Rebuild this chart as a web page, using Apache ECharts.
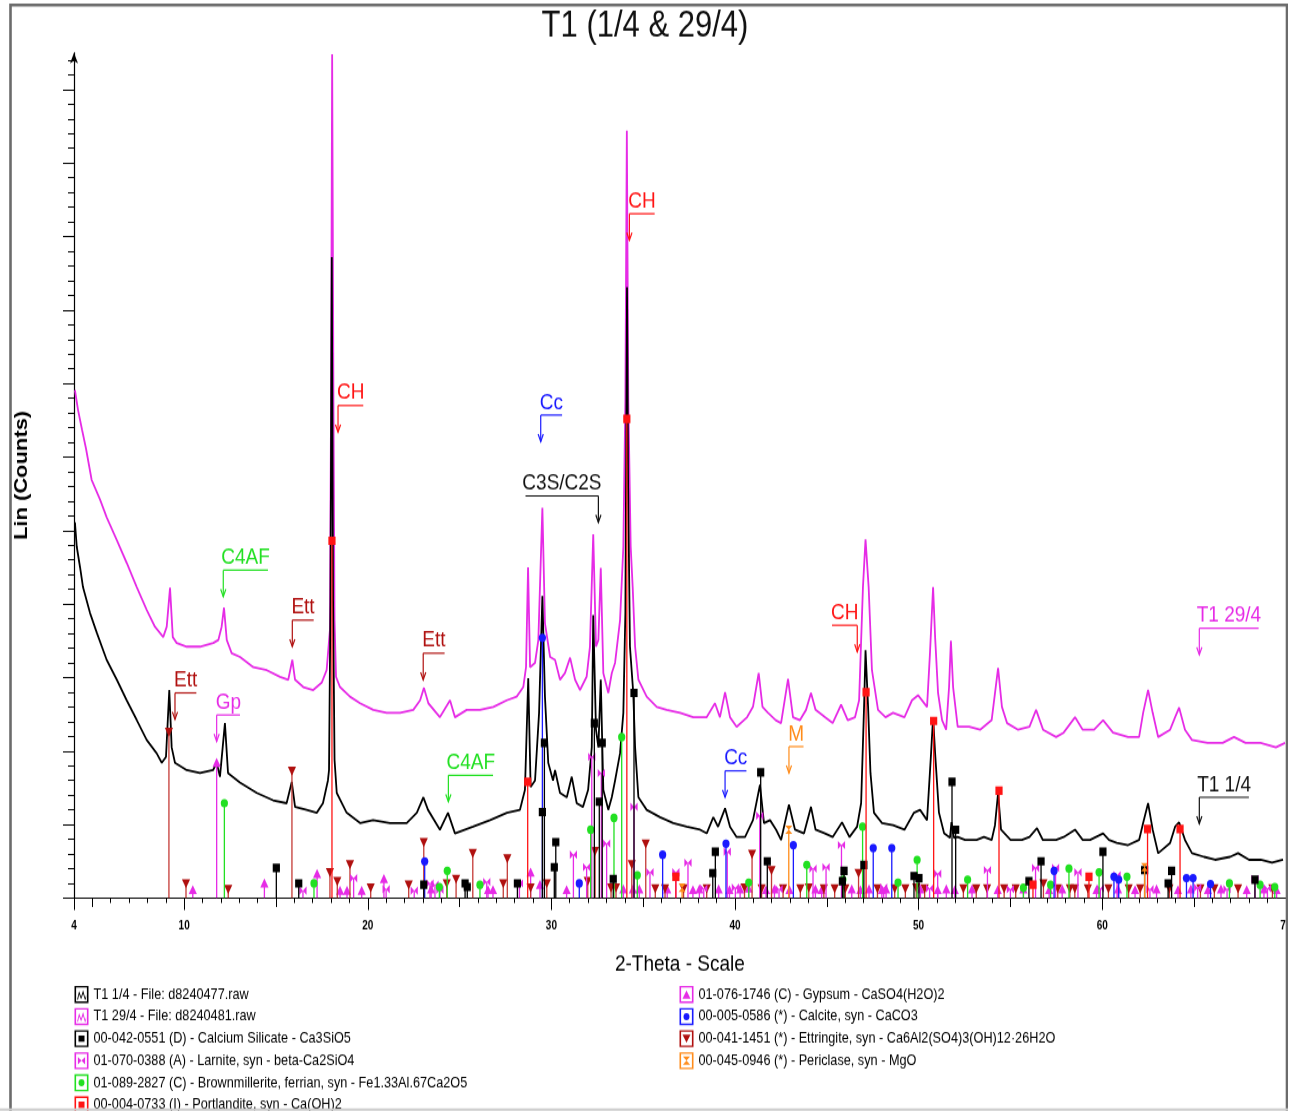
<!DOCTYPE html>
<html>
<head>
<meta charset="utf-8">
<title>T1 (1/4 &amp; 29/4)</title>
<script src="https://cdn.jsdelivr.net/npm/echarts@6/dist/echarts.min.js"></script>
<style>
  html, body { margin: 0; padding: 0; background: #fff; overflow: hidden; }
  #wrap { width: 1295px; height: 1111px; overflow: hidden; position: relative; background: #fff; }
  /* the diffractogram is laid out in a 942px-tall box and stretched to the full page height */
  #chart { width: 1288px; height: 942px; transform: scaleY(1.1794055); transform-origin: 0 0; }
</style>
</head>
<body>
<div id="wrap"><div id="chart"></div></div>
<script>
// ---------------------------------------------------------------- data
// 2-Theta (deg) / Lin (Counts) pairs

const t1Day1 = [
  [4.05,511],[4.15,478],[4.33,450],[4.49,423],[4.87,388],[5.24,361],[5.78,324],[6.33,297],[6.87,269],[7.42,242],
  [7.96,215],[8.50,197],[8.78,184],[9.01,192],[9.19,283],[9.32,205],[9.50,184],[10.14,174],[10.86,170],[11.57,174],
  [11.77,184],[11.95,165],[12.22,238],[12.39,170],[13.04,157],[13.95,143],[14.84,133],[15.58,129],[15.86,158],[16.04,124],
  [16.67,120],[17.22,116],[17.56,129],[17.83,160],[17.89,174],[17.97,405],[18.04,872],[18.11,405],[18.19,188],[18.31,143],
  [18.85,116],[19.58,102],[20.29,106],[21.21,102],[22.12,102],[22.67,116],[23.03,137],[23.28,120],[23.93,93],[24.37,116],
  [24.75,88],[25.73,97],[26.66,106],[27.58,116],[28.29,120],[28.56,147],[28.74,299],[28.87,151],[29.11,160],[29.33,252],
  [29.51,411],[29.65,274],[29.83,184],[30.09,160],[30.20,174],[30.47,143],[30.84,137],[31.11,165],[31.38,129],[31.72,124],
  [32.00,147],[32.20,205],[32.28,385],[32.43,229],[32.56,205],[32.69,297],[32.83,147],[33.10,120],[33.29,137],[33.47,160],
  [33.74,197],[33.92,252],[34.03,388],[34.12,831],[34.18,560],[34.28,342],[34.46,279],[34.56,205],[34.74,137],[35.19,120],
  [35.92,110],[36.64,102],[37.37,97],[38.10,93],[38.46,88],[38.82,110],[39.08,97],[39.46,122],[39.73,97],[40.09,83],
  [40.55,83],[40.98,106],[41.36,154],[41.58,102],[41.91,106],[42.24,93],[42.51,79],[42.94,127],[43.27,93],[43.76,88],
  [44.14,124],[44.39,93],[44.90,88],[45.32,83],[45.83,103],[46.24,83],[46.65,97],[46.87,129],[47.03,260],[47.11,337],
  [47.25,260],[47.38,170],[47.57,116],[48.01,102],[48.61,99],[49.23,93],[49.75,116],[50.08,120],[50.46,106],[50.68,197],
  [50.79,246],[50.90,197],[51.11,116],[51.39,88],[51.71,82],[51.79,103],[51.93,82],[52.13,83],[52.53,79],[53.16,79],
  [53.56,83],[53.98,79],[54.16,99],[54.33,143],[54.49,93],[55.01,79],[55.63,79],[56.04,83],[56.45,95],[56.77,79],
  [57.49,79],[57.90,83],[58.52,93],[58.94,79],[59.34,79],[60.05,88],[60.37,79],[60.79,75],[61.41,72],[62.01,79],
  [62.23,102],[62.50,129],[62.75,93],[63.05,61],[63.70,75],[63.97,97],[64.19,103],[64.51,79],[64.89,61],[65.55,56],
  [66.15,52],[66.96,56],[67.40,61],[68.00,52],[68.63,52],[69.25,48],[69.85,52]
];

const t1Day29 = [
  [4.05,691],[4.22,664],[4.44,637],[4.65,612],[4.96,569],[5.42,542],[5.78,518],[6.33,487],[6.87,456],[7.42,423],
  [7.96,392],[8.41,369],[8.86,355],[9.05,369],[9.23,422],[9.38,355],[9.59,347],[10.14,342],[10.86,342],[11.59,347],
  [11.86,351],[12.04,369],[12.17,395],[12.32,351],[12.59,333],[13.04,328],[13.77,314],[14.50,310],[15.22,301],[15.67,297],
  [15.89,324],[16.04,297],[16.49,287],[17.03,283],[17.49,293],[17.76,310],[17.94,365],[18.00,678],[18.06,1148],[18.13,678],
  [18.19,378],[18.27,301],[18.49,287],[19.03,274],[19.58,265],[20.30,256],[21.03,252],[21.76,252],[22.48,256],[22.85,269],
  [23.06,286],[23.30,265],[23.93,246],[24.48,269],[24.75,246],[25.39,256],[26.11,256],[26.84,260],[27.57,269],[28.11,274],
  [28.47,287],[28.62,314],[28.73,450],[28.84,314],[29.11,320],[29.29,351],[29.51,531],[29.65,374],[29.93,328],[30.20,324],
  [30.47,297],[30.74,306],[31.02,327],[31.29,297],[31.56,283],[31.92,301],[32.10,342],[32.28,495],[32.43,342],[32.56,351],
  [32.69,449],[32.83,306],[33.10,279],[33.29,306],[33.47,320],[33.74,378],[33.92,478],[34.03,678],[34.11,1044],[34.19,678],
  [34.32,478],[34.43,422],[34.56,342],[34.74,297],[35.19,274],[35.74,260],[36.28,256],[37.01,252],[37.73,246],[38.46,246],
  [38.91,265],[39.18,246],[39.46,280],[39.73,246],[40.09,233],[40.66,246],[40.98,260],[41.29,306],[41.50,260],[41.80,252],
  [42.22,242],[42.51,238],[42.89,298],[43.16,246],[43.54,242],[43.87,256],[44.14,279],[44.39,256],[44.90,246],[45.32,238],
  [45.78,263],[46.14,242],[46.54,246],[46.76,269],[46.97,423],[47.11,488],[47.28,423],[47.46,310],[47.79,256],[48.20,246],
  [48.61,252],[49.23,246],[49.64,269],[49.97,276],[50.46,260],[50.62,333],[50.79,423],[50.90,355],[51.06,279],[51.28,242],
  [51.50,229],[51.66,287],[51.76,350],[51.88,287],[52.13,233],[52.75,233],[53.35,229],[53.98,242],[54.33,313],[54.54,260],
  [54.82,238],[55.42,229],[56.04,233],[56.40,256],[56.78,229],[57.49,219],[57.90,225],[58.52,246],[58.94,229],[59.56,229],
  [60.05,242],[60.59,225],[61.41,219],[62.01,219],[62.23,252],[62.50,283],[62.75,252],[63.05,219],[63.70,229],[63.97,246],
  [64.19,259],[64.51,229],[64.89,215],[65.74,211],[66.56,211],[67.18,219],[67.81,211],[68.63,211],[69.46,205],[69.96,211]
];

// reference pattern lines: [2-Theta, stick height]
const calciumSilicate = [
  [15.02,41],[16.24,20],[23.05,18],[25.30,20],[25.42,15],[28.15,20],[29.51,117],[29.62,211],[30.16,42],[30.24,76],
  [32.34,238],[32.61,131],[32.77,211],[33.37,26],[34.50,279],[38.79,34],[38.93,63],[41.40,171],[41.76,50],[45.85,23],
  [45.94,37],[47.02,45],[49.75,30],[50.02,27],[51.82,158],[52.02,93],[56.01,23],[56.67,50],[60.04,63],[62.31,38],
  [63.59,20],[63.78,37],[68.32,25]
];
const larnite = [
  [16.47,10],[19.23,27],[21.00,12],[22.53,10],[23.39,20],[23.66,18],[23.93,11],[26.48,22],[28.26,20],[31.20,59],
  [31.92,42],[32.20,192],[32.72,170],[33.01,74],[34.50,124],[35.37,35],[36.78,35],[37.44,48],[38.30,13],[39.58,63],
  [40.02,14],[41.35,112],[42.40,12],[44.25,40],[44.96,42],[45.80,72],[48.10,14],[50.60,13],[51.04,33],[53.75,38],
  [55.00,12],[56.37,41],[57.46,41],[58.68,35],[59.90,13],[60.81,31],[62.60,12],[65.20,14],[66.80,12],[68.32,26],[69.00,13]
];
const brownmillerite = [
  [12.19,129],[17.07,20],[23.90,15],[24.33,37],[26.11,18],[32.14,93],[33.41,109],[33.83,219],[34.68,31],[40.75,21],
  [43.91,45],[45.88,25],[46.95,97],[48.88,21],[49.92,52],[52.67,25],[55.71,14],[57.19,18],[58.19,40],[59.83,35],
  [61.35,29],[66.93,20],[68.60,18],[69.40,15]
];
const portlandite = [
  [18.05,486],[28.71,158],[34.11,652],[36.78,29],[47.14,280],[50.82,241],[54.38,146],[56.23,18],[59.28,29],[62.47,94],[64.24,94]
];
const gypsum = [
  [10.47,11],[11.77,184],[14.37,20],[17.24,33],[18.49,10],[18.87,10],[19.67,10],[20.88,26],[23.45,12],[26.55,11],
  [26.82,11],[28.87,35],[29.38,18],[30.83,11],[33.92,12],[34.44,12],[34.79,12],[36.31,12],[37.71,11],[38.06,12],
  [39.11,12],[39.70,11],[40.28,12],[40.75,13],[41.69,11],[42.15,12],[42.97,11],[44.38,12],[44.72,11],[46.36,12],
  [46.83,11],[47.30,12],[48.00,11],[48.23,12],[50.10,12],[51.04,11],[51.51,12],[51.97,11],[52.91,12],[54.31,11],
  [55.71,12],[57.11,11],[57.82,12],[59.69,11],[60.86,12],[61.79,11],[62.96,12],[64.13,11],[64.83,12],[65.76,11],
  [66.47,12],[67.87,11],[68.81,12],[69.50,11]
];
const calcite = [
  [23.10,50],[29.51,354],[31.52,20],[36.06,59],[39.51,74],[43.18,72],[47.53,68],[48.54,68],[57.38,37],[60.64,29],
  [60.90,25],[64.59,27],[64.95,27],[65.90,19]
];
const ettringite = [
  [9.17,226],[10.10,20],[12.40,12],[15.87,173],[17.94,35],[18.34,23],[19.03,46],[20.16,14],[22.23,18],[23.05,76],
  [24.30,20],[24.81,26],[25.72,61],[27.38,20],[27.60,54],[28.87,14],[29.75,20],[31.98,23],[32.38,64],[33.25,14],
  [33.52,14],[34.38,46],[35.14,74],[35.66,13],[36.19,13],[37.20,13],[38.46,13],[40.52,14],[40.93,60],[41.45,13],
  [41.99,38],[42.62,13],[43.56,13],[44.02,14],[44.84,13],[45.43,13],[46.01,13],[46.73,34],[47.76,13],[48.70,13],
  [49.28,13],[49.87,14],[50.33,13],[52.44,13],[53.14,13],[53.73,13],[54.66,13],[55.29,13],[56.80,20],[57.58,13],
  [58.24,13],[58.51,13],[59.22,13],[60.34,13],[61.44,13],[62.07,13],[63.66,13],[65.35,13],[66.11,13],[67.40,13],[69.27,13]
];
const periclase = [[37.12,14],[42.93,93],[62.31,42]];

// phase call-outs: label text and the point the arrow touches
const calloutText = ['CH', 'CH', 'Cc', 'C3S/C2S', 'C4AF', 'Ett', 'Ett', 'Ett', 'Gp', 'C4AF', 'Cc', 'M', 'CH', 'T1 29/4', 'T1 1/4'];
const calloutAt = [
  [18.38,634],[34.25,895],[29.42,621],[32.56,511],[12.13,410],[15.89,342],[23.02,297],[9.50,243],
  [11.77,213],[24.39,131],[39.46,137],[42.94,170],[46.66,335],[65.29,331],[65.29,101]
];

// axis ticks and labels
const degreeLabels = [4, 10, 20, 30, 40, 50, 60, 70];
const degreeMidTicks = [5, 15, 25, 35, 45, 55, 65];
const countMajorTicks = [0, 100, 200, 300, 400, 500, 600, 700, 800, 900, 1000, 1100];

// legend entries
const scanNames = ['T1 1/4 - File: d8240477.raw', 'T1 29/4 - File: d8240481.raw'];
const phaseNames = {
  c3s: '00-042-0551 (D) - Calcium Silicate - Ca3SiO5',
  larnite: '01-070-0388 (A) - Larnite, syn - beta-Ca2SiO4',
  brown: '01-089-2827 (C) - Brownmillerite, ferrian, syn - Fe1.33Al.67Ca2O5',
  portl: '00-004-0733 (I) - Portlandite, syn - Ca(OH)2',
  gypsum: '01-076-1746 (C) - Gypsum - CaSO4(H2O)2',
  calcite: '00-005-0586 (*) - Calcite, syn - CaCO3',
  ett: '00-041-1451 (*) - Ettringite, syn - Ca6Al2(SO4)3(OH)12\u00B726H2O',
  peri: '00-045-0946 (*) - Periclase, syn - MgO'
};

// ---------------------------------------------------------------- layout helpers
const SY = 1111 / 942;               // vertical stretch of the drawing box
const FONT = "'Liberation Sans', Arial, Helvetica, sans-serif";
const CW = 1288, CH = 942;
const AXIS_Y = 898 / SY;             // x axis line
const PLOT_TOP = 52.75 / SY;         // top of the count axis

const degreeMinorTicks = [];
for (let d = 4; d <= 70; d++) degreeMinorTicks.push(d);
const countMinorTicks = [];
for (let v = 0; v <= 1140; v += 20) countMinorTicks.push(v);

const COLORS = {
  black: '#000000', magenta: '#e62be6', green: '#22e022', red: '#ff1414',
  blue: '#1a1aff', ett: '#b0100f', ettLine: '#c43a36', orange: '#ff8c1a'
};
const calloutColor = {
  'CH': COLORS.red, 'Cc': COLORS.blue, 'C3S/C2S': '#111111', 'C4AF': COLORS.green,
  'Ett': COLORS.ett, 'Gp': COLORS.magenta, 'M': COLORS.orange, 'T1 29/4': COLORS.magenta, 'T1 1/4': '#111111'
};
const hookOnRight = [3, 12];

const measureCtx = document.createElement('canvas').getContext('2d');
measureCtx.font = '19px ' + FONT;

// legend icons drawn in a 14 x 17 box: coloured frame + phase symbol
const FRAME = 'M0,0H14V17H0Z M1.6,1.6V15.4H12.4V1.6Z ';
const ICONS = {
  scan: FRAME + 'M2.6,13.6L4.6,5L6.6,10.8L8.6,4L10.7,12.2L11.6,9.2V11.8L10.6,14.4L8.6,7.6L6.6,13.4L4.6,8.2L3.6,13.6Z',
  square: FRAME + 'M4,5.3H10V11.7H4Z',
  circle: FRAME + 'M7,5A3,3.5,0,1,1,6.99,5Z',
  up: FRAME + 'M7,4.4L11,12.6H3Z',
  down: FRAME + 'M3,4.4H11L7,12.6Z',
  bowtie: FRAME + 'M3.4,4.8L7,8.5L10.6,4.8V12.2L7,8.5L3.4,12.2Z',
  hourglass: FRAME + 'M3.4,4.4H10.6L7,8.5L10.6,12.6H3.4L7,8.5Z'
};

function marker(kind, x, y, color) {
  const hw = 3.6, hh = 4.2 / SY;
  const style = { fill: color };
  switch (kind) {
    case 'square': return { type: 'rect', shape: { x: x - hw, y: y - hh, width: 2 * hw, height: 2 * hh }, style };
    case 'circle': return { type: 'circle', shape: { cx: x, cy: y, r: hw }, style };
    case 'up': return { type: 'polygon', shape: { points: [[x, y - hh - 0.6], [x + hw + 0.5, y + hh], [x - hw - 0.5, y + hh]] }, style };
    case 'down': return { type: 'polygon', shape: { points: [[x - hw - 0.5, y - hh], [x + hw + 0.5, y - hh], [x, y + hh + 0.6]] }, style };
    case 'bowtie': return { type: 'polygon', shape: { points: [[x - hw, y - hh], [x, y], [x + hw, y - hh], [x + hw, y + hh], [x, y], [x - hw, y + hh]] }, style };
    default: return { type: 'polygon', shape: { points: [[x - hw, y - hh], [x + hw, y - hh], [x, y], [x + hw, y + hh], [x - hw, y + hh], [x, y]] }, style };
  }
}

function stickSeries(name, data, kind, color, lineColor) {
  return {
    type: 'custom', name, data, xAxisIndex: 0, yAxisIndex: 0, z: 3, clip: true, silent: true,
    encode: { x: 0, y: 1 }, itemStyle: { color },
    renderItem(params, api) {
      const x = api.value(0);
      const base = api.coord([x, 0]);
      const top = api.coord([x, api.value(1)]);
      return {
        type: 'group', children: [
          { type: 'line', shape: { x1: top[0], y1: base[1], x2: top[0], y2: top[1] }, style: { stroke: lineColor || color, lineWidth: 1.3 } },
          marker(kind, top[0], top[1], color)
        ]
      };
    }
  };
}

const calloutSeries = {
  type: 'custom', name: 'callouts', data: calloutAt, xAxisIndex: 0, yAxisIndex: 0, z: 5, silent: true,
  encode: { x: 0, y: 1 },
  renderItem(params, api) {
    const i = params.dataIndex;
    const text = calloutText[i];
    const color = calloutColor[text];
    const tip = api.coord([api.value(0), api.value(1)]);
    const w = measureCtx.measureText(text).width * 0.92;
    const right = hookOnRight.indexOf(i) >= 0;
    const yLine = tip[1] - 26.5 / SY;
    const x0 = right ? tip[0] - w : tip[0];
    const x1 = right ? tip[0] : tip[0] + w;
    const ah = 7.5 / SY, aw = 2.6;
    const stroke = { stroke: color, lineWidth: 1.2, fill: null };
    return {
      type: 'group', children: [
        { type: 'line', shape: { x1: x0, y1: yLine, x2: x1, y2: yLine }, style: stroke },
        { type: 'line', shape: { x1: tip[0], y1: yLine, x2: tip[0], y2: tip[1] }, style: stroke },
        { type: 'polyline', shape: { points: [[tip[0] - aw, tip[1] - ah], [tip[0], tip[1]], [tip[0] + aw, tip[1] - ah]] }, style: stroke },
        {
          type: 'text', x: (x0 + x1) / 2, y: yLine - 12.5 / SY,
          style: {
            text, fill: color, fontSize: 19, fontFamily: FONT,
            align: 'center', verticalAlign: 'middle', textAlign: 'center', textVerticalAlign: 'middle'
          }
        }
      ]
    };
  }
};

// ---------------------------------------------------------------- chart
const chart = echarts.init(document.getElementById('chart'), null, { renderer: 'canvas', width: CW, height: CH });

const xBase = {
  type: 'value', min: 4, max: 70, gridIndex: 0, position: 'bottom',
  axisLine: { show: false, onZero: false }, axisLabel: { show: false }, splitLine: { show: false }
};
const yBase = {
  type: 'value', min: 0, max: 1150, gridIndex: 0, position: 'left',
  axisLine: { show: false, onZero: false }, axisLabel: { show: false }, splitLine: { show: false }
};

const legendText = { color: '#000', fontSize: 12.7, fontFamily: FONT };
const legendCommon = {
  orient: 'vertical', top: 836, height: 400, padding: 0, itemGap: 4.3,
  itemWidth: 14, itemHeight: 17 / SY, symbolKeepAspect: false, selectedMode: false,
  itemStyle: { borderWidth: 0 }, textStyle: legendText
};

chart.setOption({
  animation: false,
  backgroundColor: '#ffffff',
  textStyle: { fontFamily: FONT },
  grid: {
    left: 74, right: CW - 1285.8, top: PLOT_TOP, bottom: CH - AXIS_Y,
    containLabel: false, outerBoundsMode: 'none'
  },
  xAxis: [
    Object.assign({}, xBase, {
      name: '2-Theta - Scale', nameLocation: 'middle', nameGap: 47,
      nameTextStyle: { color: '#000', fontSize: 19, fontFamily: FONT },
      axisLine: { show: true, onZero: false, lineStyle: { color: '#000', width: 1.2 } },
      axisTick: { show: true, inside: false, length: 5 / SY, customValues: degreeMinorTicks, lineStyle: { color: '#000', width: 1 } },
      axisLabel: {
        show: true, customValues: degreeLabels, margin: 19, color: '#000',
        fontSize: 10, fontWeight: 'bold', fontFamily: FONT, formatter: v => String(v)
      }
    }),
    Object.assign({}, xBase, {
      axisTick: { show: true, length: 9 / SY, customValues: degreeMidTicks, lineStyle: { color: '#000', width: 1 } }
    }),
    Object.assign({}, xBase, {
      axisTick: { show: true, length: 12 / SY, customValues: degreeLabels, lineStyle: { color: '#000', width: 1 } }
    })
  ],
  yAxis: [
    Object.assign({}, yBase, {
      name: 'Lin (Counts)', nameLocation: 'middle', nameGap: 43, nameRotate: 90,
      nameTextStyle: { color: '#000', fontSize: 18.6, fontWeight: 'bold', fontFamily: FONT },
      axisLine: { show: true, onZero: false, symbol: ['none', 'arrow'], symbolSize: [6, 9], lineStyle: { color: '#000', width: 1.2 } },
      axisTick: { show: true, length: 6, customValues: countMinorTicks, lineStyle: { color: '#000', width: 1 } }
    }),
    Object.assign({}, yBase, {
      axisTick: { show: true, length: 11, customValues: countMajorTicks, lineStyle: { color: '#000', width: 1 } }
    })
  ],
  legend: [
    Object.assign({}, legendCommon, {
      left: 74.5,
      data: [
        { name: scanNames[0], icon: 'path://' + ICONS.scan },
        { name: scanNames[1], icon: 'path://' + ICONS.scan },
        { name: phaseNames.c3s, icon: 'path://' + ICONS.square },
        { name: phaseNames.larnite, icon: 'path://' + ICONS.bowtie },
        { name: phaseNames.brown, icon: 'path://' + ICONS.circle },
        { name: phaseNames.portl, icon: 'path://' + ICONS.square }
      ]
    }),
    Object.assign({}, legendCommon, {
      left: 679.5,
      data: [
        { name: phaseNames.gypsum, icon: 'path://' + ICONS.up },
        { name: phaseNames.calcite, icon: 'path://' + ICONS.circle },
        { name: phaseNames.ett, icon: 'path://' + ICONS.down },
        { name: phaseNames.peri, icon: 'path://' + ICONS.hourglass }
      ]
    })
  ],
  graphic: [
    {
      type: 'text', x: 645, y: 27 / SY, z: 10,
      style: {
        text: 'T1 (1/4 & 29/4)', fill: '#111', fontSize: 31, fontFamily: FONT,
        align: 'center', verticalAlign: 'middle', textAlign: 'center', textVerticalAlign: 'middle'
      }
    },
    {
      type: 'rect', z: 20, silent: true,
      shape: { x: 10.5, y: 5 / SY, width: 1276.5, height: 1200 },
      style: { fill: null, stroke: '#6b6b6b', lineWidth: 2.6 }
    },
    {
      type: 'line', z: 20, silent: true,
      shape: { x1: 0, y1: 1109.5 / SY, x2: CW, y2: 1109.5 / SY },
      style: { stroke: '#cdcdcd', lineWidth: 2 }
    }
  ],
  series: [
    {
      type: 'line', name: scanNames[1], data: t1Day29, symbol: 'none', showSymbol: false, z: 2, clip: true,
      color: COLORS.magenta, lineStyle: { color: COLORS.magenta, width: 1.8 }, silent: true
    },
    {
      type: 'line', name: scanNames[0], data: t1Day1, symbol: 'none', showSymbol: false, z: 2, clip: true,
      color: COLORS.black, lineStyle: { color: COLORS.black, width: 1.8 }, silent: true
    },
    stickSeries(phaseNames.gypsum, gypsum, 'up', COLORS.magenta),
    stickSeries(phaseNames.ett, ettringite, 'down', COLORS.ett, COLORS.ettLine),
    stickSeries(phaseNames.larnite, larnite, 'bowtie', COLORS.magenta),
    stickSeries(phaseNames.brown, brownmillerite, 'circle', COLORS.green),
    stickSeries(phaseNames.calcite, calcite, 'circle', COLORS.blue),
    stickSeries(phaseNames.c3s, calciumSilicate, 'square', COLORS.black),
    stickSeries(phaseNames.peri, periclase, 'hourglass', COLORS.orange),
    stickSeries(phaseNames.portl, portlandite, 'square', COLORS.red),
    calloutSeries
  ]
});
</script>
</body>
</html>
